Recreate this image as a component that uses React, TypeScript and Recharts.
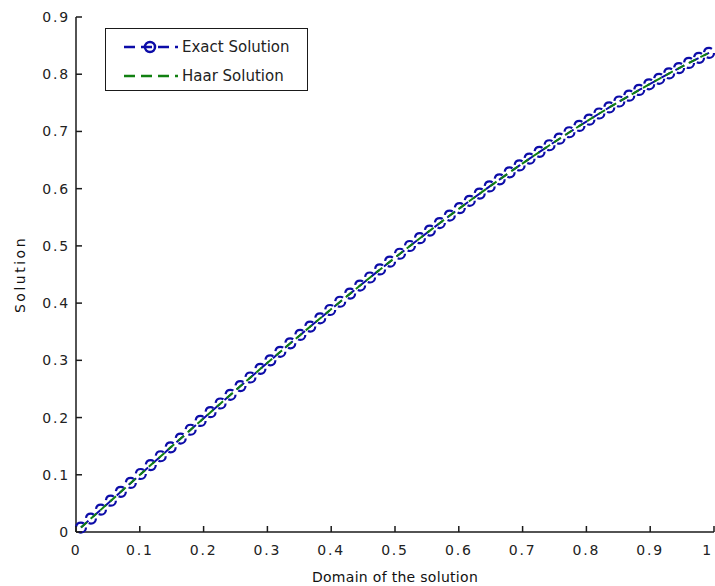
import { Legend, Line, LineChart, XAxis, YAxis } from 'recharts';

// collocation points (2M = 64)
const xValues = [
  0.0078, 0.0234, 0.0391, 0.0547, 0.0703, 0.0859, 0.1016, 0.1172,
  0.1328, 0.1484, 0.1641, 0.1797, 0.1953, 0.2109, 0.2266, 0.2422,
  0.2578, 0.2734, 0.2891, 0.3047, 0.3203, 0.3359, 0.3516, 0.3672,
  0.3828, 0.3984, 0.4141, 0.4297, 0.4453, 0.4609, 0.4766, 0.4922,
  0.5078, 0.5234, 0.5391, 0.5547, 0.5703, 0.5859, 0.6016, 0.6172,
  0.6328, 0.6484, 0.6641, 0.6797, 0.6953, 0.7109, 0.7266, 0.7422,
  0.7578, 0.7734, 0.7891, 0.8047, 0.8203, 0.8359, 0.8516, 0.8672,
  0.8828, 0.8984, 0.9141, 0.9297, 0.9453, 0.9609, 0.9766, 0.9922,
];

const exactValues = [
  0.0078, 0.0234, 0.0391, 0.0547, 0.0702, 0.0858, 0.1014, 0.1169,
  0.1324, 0.1479, 0.1633, 0.1787, 0.1941, 0.2094, 0.2246, 0.2398,
  0.2550, 0.2700, 0.2851, 0.3000, 0.3149, 0.3297, 0.3444, 0.3590,
  0.3735, 0.3880, 0.4024, 0.4166, 0.4307, 0.4448, 0.4588, 0.4725,
  0.4863, 0.4998, 0.5134, 0.5267, 0.5399, 0.5530, 0.5660, 0.5788,
  0.5914, 0.6039, 0.6163, 0.6285, 0.6406, 0.6525, 0.6643, 0.6759,
  0.6873, 0.6986, 0.7097, 0.7206, 0.7314, 0.7420, 0.7523, 0.7625,
  0.7725, 0.7824, 0.7920, 0.8014, 0.8107, 0.8197, 0.8286, 0.8373,
];

const haarValues = [
  0.0078, 0.0234, 0.0391, 0.0547, 0.0702, 0.0858, 0.1014, 0.1169,
  0.1324, 0.1479, 0.1633, 0.1787, 0.1941, 0.2094, 0.2246, 0.2398,
  0.2550, 0.2700, 0.2851, 0.3000, 0.3149, 0.3297, 0.3444, 0.3590,
  0.3735, 0.3880, 0.4024, 0.4166, 0.4307, 0.4448, 0.4588, 0.4725,
  0.4863, 0.4998, 0.5134, 0.5267, 0.5399, 0.5530, 0.5660, 0.5788,
  0.5914, 0.6039, 0.6163, 0.6285, 0.6406, 0.6525, 0.6643, 0.6759,
  0.6873, 0.6986, 0.7097, 0.7206, 0.7314, 0.7420, 0.7523, 0.7625,
  0.7725, 0.7824, 0.7920, 0.8014, 0.8107, 0.8197, 0.8286, 0.8373,
];

const xTicks = [0, 0.1, 0.2, 0.3, 0.4, 0.5, 0.6, 0.7, 0.8, 0.9, 1];
const xTickLabels = ['0', '0.1', '0.2', '0.3', '0.4', '0.5', '0.6', '0.7', '0.8', '0.9', '1'];
const yTicks = [0, 0.1, 0.2, 0.3, 0.4, 0.5, 0.6, 0.7, 0.8, 0.9];
const yTickLabels = ['0', '0.1', '0.2', '0.3', '0.4', '0.5', '0.6', '0.7', '0.8', '0.9'];

const data = xValues.map((x, i) => ({ x, exact: exactValues[i], haar: haarValues[i] }));

const BLUE = '#0c0ca8';
const GREEN = '#118011';
const AXIS = '#1a1a1a';
const FONT = '"DejaVu Sans", sans-serif';
const TICK_LEN = 6;

// MATLAB-style ticks: drawn inward, labels outside
function BottomTick({ x, y, index }: any) {
  // last label sits on the window edge; pull it inside
  const last = index === xTickLabels.length - 1;
  return (
    <g>
      <line x1={x} y1={y} x2={x} y2={y - TICK_LEN} stroke={AXIS} strokeWidth={1.5} />
      <text
        x={last ? x - 1 : x}
        y={y + 23}
        textAnchor={last ? 'end' : 'middle'}
        fontFamily={FONT}
        fontSize={14}
        letterSpacing={1.8}
        fill="#222"
      >
        {xTickLabels[index]}
      </text>
    </g>
  );
}

function LeftTick({ x, y, index }: any) {
  return (
    <g>
      <line x1={x} y1={y} x2={x + TICK_LEN} y2={y} stroke={AXIS} strokeWidth={1.5} />
      <text x={x - 6} y={y + 5} textAnchor="end" fontFamily={FONT} fontSize={14} letterSpacing={1.8} fill="#222">
        {yTickLabels[index]}
      </text>
    </g>
  );
}

function TopTick({ x, y }: any) {
  return <line x1={x} y1={y} x2={x} y2={y + TICK_LEN} stroke={AXIS} strokeWidth={1.5} />;
}

function RightTick({ x, y }: any) {
  return <line x1={x} y1={y} x2={x - TICK_LEN} y2={y} stroke={AXIS} strokeWidth={1.5} />;
}

function LegendBox({ payload }: any) {
  return (
    <div
      style={{
        width: 201,
        height: 61,
        border: `1.5px solid ${AXIS}`,
        background: '#fff',
        boxSizing: 'content-box',
      }}
    >
      {(payload || []).map((entry: any, i: number) => {
        const withDot = entry.payload && entry.payload.dot;
        return (
          <div key={i} style={{ display: 'flex', alignItems: 'center', height: 31, marginTop: i === 0 ? 2 : -2 }}>
            <svg width={76} height={20} style={{ flex: 'none' }}>
              <line x1={18} y1={10} x2={72} y2={10} stroke={entry.color} strokeWidth={2.5} strokeDasharray="11 6" />
              {withDot && <circle cx={44} cy={10} r={5} stroke={entry.color} strokeWidth={2.5} fill="none" />}
            </svg>
            <span style={{ fontFamily: FONT, fontSize: 15, color: '#222' }}>{entry.value}</span>
          </div>
        );
      })}
    </div>
  );
}

export default function App() {
  return (
    <div style={{ position: 'absolute', left: 0, top: 0, width: 715, height: 586, background: '#fff' }}>
      <LineChart width={715} height={586} data={data} margin={{ top: 17, right: 1, bottom: 0, left: 0 }}>
        <XAxis
          dataKey="x"
          type="number"
          domain={[0, 1]}
          ticks={xTicks}
          interval={0}
          height={54}
          tickSize={0}
          tickMargin={0}
          tickLine={false}
          tick={<BottomTick />}
          axisLine={{ stroke: AXIS, strokeWidth: 1.5 }}
          label={{ value: 'Domain of the solution', position: 'insideBottom', offset: 4, fontFamily: FONT, fontSize: 14, letterSpacing: 0.3, fill: '#111' }}
        />
        <XAxis
          xAxisId="top"
          orientation="top"
          type="number"
          domain={[0, 1]}
          ticks={xTicks}
          interval={0}
          height={0}
          tickSize={0}
          tickMargin={0}
          tickLine={false}
          tick={<TopTick />}
          axisLine={{ stroke: AXIS, strokeWidth: 1.5 }}
        />
        <YAxis
          type="number"
          domain={[0, 0.9]}
          ticks={yTicks}
          interval={0}
          width={76}
          tickSize={0}
          tickMargin={0}
          tickLine={false}
          tick={<LeftTick />}
          axisLine={{ stroke: AXIS, strokeWidth: 1.5 }}
          label={{ value: 'Solution', angle: -90, position: 'insideLeft', offset: 20, fontFamily: FONT, fontSize: 14, letterSpacing: 2.5, fill: '#111', style: { textAnchor: 'middle' } }}
        />
        <YAxis
          yAxisId="right"
          orientation="right"
          type="number"
          domain={[0, 0.9]}
          ticks={yTicks}
          interval={0}
          width={0}
          tickSize={0}
          tickMargin={0}
          tickLine={false}
          tick={<RightTick />}
          axisLine={{ stroke: AXIS, strokeWidth: 1.5 }}
        />
        <Legend
          layout="vertical"
          align="center"
          verticalAlign="middle"
          content={<LegendBox />}
          wrapperStyle={{ position: 'absolute', left: 105, top: 28, width: 'auto', height: 'auto' }}
        />
        <Line
          name="Exact Solution"
          dataKey="exact"
          type="linear"
          stroke={BLUE}
          strokeWidth={2}
          strokeDasharray="10 6"
          dot={{ r: 5, stroke: BLUE, strokeWidth: 2.2, fill: 'none' }}
          activeDot={false}
          isAnimationActive={false}
        />
        <Line
          name="Haar Solution"
          dataKey="haar"
          type="linear"
          stroke={GREEN}
          strokeWidth={2}
          strokeDasharray="8 5"
          dot={false}
          activeDot={false}
          isAnimationActive={false}
        />
      </LineChart>
    </div>
  );
}
